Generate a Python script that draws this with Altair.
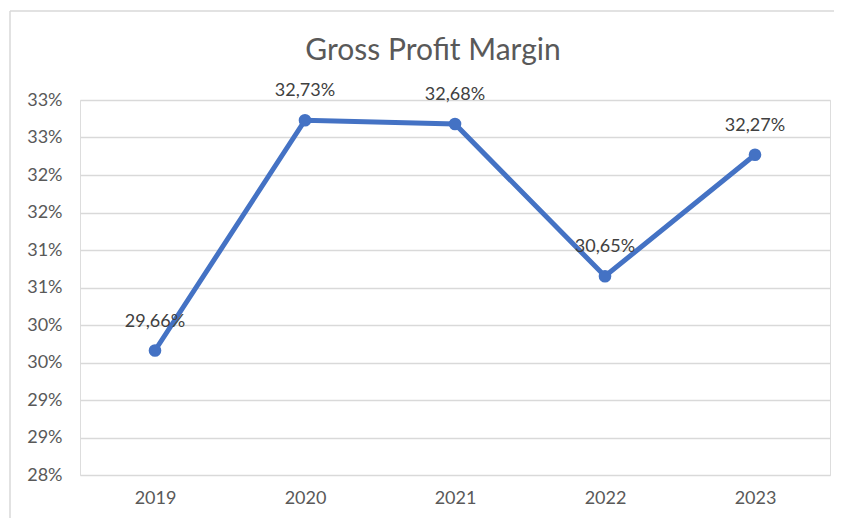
import altair as alt
import pandas as pd

years = ["2019", "2020", "2021", "2022", "2023"]
margins = [29.66, 32.73, 32.68, 30.65, 32.27]
labels = [f"{v:.2f}".replace(".", ",") + "%" for v in margins]
y_ticks = [28, 28.5, 29, 29.5, 30, 30.5, 31, 31.5, 32, 32.5, 33]

df = pd.DataFrame({"year": years, "margin": margins, "label": labels})

W, H = 750, 375
GREY = "#595959"
GRID = "#d9d9d9"
BLUE = "#4472C4"
FONT = "Lato"

x = alt.X("year:O", sort=years, title=None,
          scale=alt.Scale(type="point", padding=0.5),
          axis=alt.Axis(labelAngle=0, labelFontSize=18, labelColor=GREY, labelFont=FONT,
                        domain=False, ticks=False, labelPadding=14))
y = alt.Y("margin:Q", title=None,
          scale=alt.Scale(domain=[28, 33], nice=False, zero=False),
          axis=alt.Axis(values=y_ticks, labelExpr="round(datum.value) + '%'",
                        labelFontSize=18, labelColor=GREY, labelFont=FONT,
                        domain=False, ticks=False, labelPadding=18,
                        gridColor=GRID, gridWidth=1.3))

base = alt.Chart(df)
line = base.mark_line(color=BLUE, strokeWidth=5).encode(x=x, y=y)
pts = base.mark_point(filled=True, color=BLUE, size=160, opacity=1).encode(x=x, y=y)
txt = base.mark_text(dy=-29, fontSize=18, color="#404040", font=FONT).encode(
    x=x, y=y, text="label:N")

title = alt.Chart(pd.DataFrame({"t": ["Gross Profit Margin"]})).mark_text(
    fontSize=30, color=GREY, font=FONT, baseline="middle", align="center"
).encode(x=alt.value(353), y=alt.value(-49), text="t:N")

frame_left = alt.Chart(pd.DataFrame({"a": [0]})).mark_rule(color=GRID, strokeWidth=1.5).encode(
    x=alt.value(-70), y=alt.value(-89), y2=alt.value(H + 43))
frame_top = alt.Chart(pd.DataFrame({"a": [0]})).mark_rule(color=GRID, strokeWidth=1.5).encode(
    x=alt.value(-70), x2=alt.value(W + 4), y=alt.value(-89))

chart = alt.layer(frame_left, frame_top, title, line, pts, txt).properties(
    width=W, height=H,
    autosize=alt.AutoSizeParams(type="none"),
    padding={"left": 72, "top": 92, "right": 4, "bottom": 44},
).configure_view(stroke=None).configure(background="white")

chart.save("out.html", embed_options={"renderer": "svg", "actions": False})
